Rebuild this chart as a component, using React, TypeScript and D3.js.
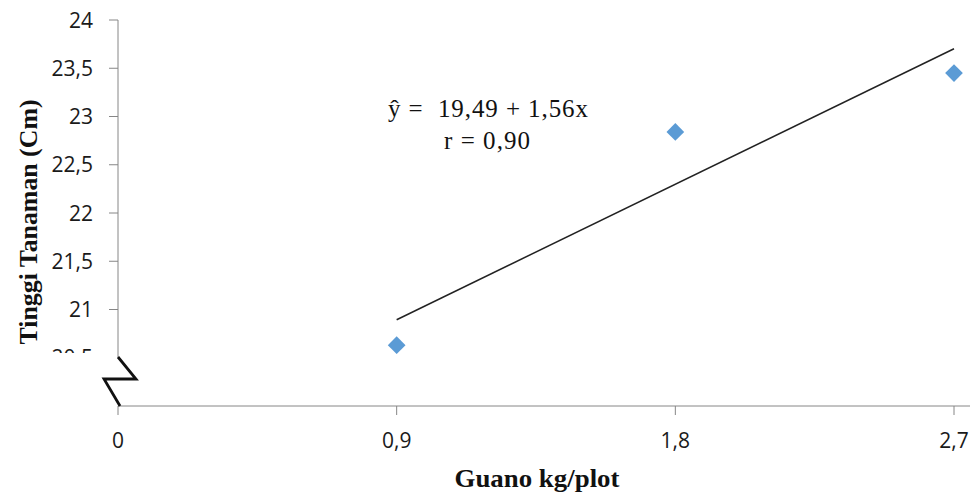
import React from "react";
import * as d3 from "d3";

const xDoses = [0.9, 1.8, 2.7];
const heights = [20.63, 22.84, 23.45];
const xTicks = [0, 0.9, 1.8, 2.7];
const xTickLabels = ["0", "0,9", "1,8", "2,7"];
const yTicks = [20, 20.5, 21, 21.5, 22, 22.5, 23, 23.5, 24];
const yTickLabels = ["20", "20,5", "21", "21,5", "22", "22,5", "23", "23,5", "24"];
const intercept = 19.49;
const slope = 1.56;
const equationLines = ["ŷ =  19,49 + 1,56x", "r = 0,90"];
const xTitle = "Guano kg/plot";
const yTitle = "Tinggi Tanaman (Cm)";

export default function App() {
  const W = 974, H = 495;
  const x = d3.scaleLinear().domain([0, 2.7]).range([118, 954]);
  const y = d3.scaleLinear().domain([20, 24]).range([406, 20]);
  const axisColor = "#868686";
  const sans = "'Open Sans', 'Noto Sans', sans-serif";
  const serif = "'Liberation Serif', 'Times New Roman', serif";
  const trend = d3.line<number>().x(d => x(d)).y(d => y(intercept + slope * d));
  const trendX = [xDoses[0], xDoses[xDoses.length - 1]];
  const diamond = d3.symbol().type(d3.symbolDiamond2).size(200)();
  return (
    <svg width={W} height={H} style={{ position: "absolute", left: 0, top: 0, background: "#fff" }}>
      {yTicks.map((t, i) => (
        <g key={"y" + i}>
          <line x1={109} x2={118} y1={y(t)} y2={y(t)} stroke={axisColor} strokeWidth={1} />
          <text x={93} y={y(t)} dy="0.36em" textAnchor="end" fontFamily={sans} fontSize={21} fill="#1a1a1a">
            {yTickLabels[i]}
          </text>
        </g>
      ))}
      <rect x={40} y={353} width={100} height={64} fill="#fff" />
      <rect x={84} y={350} width={8} height={6} fill="none" />
      <line x1={118} x2={118} y1={y(24)} y2={357} stroke={axisColor} strokeWidth={1} />
      <line x1={118} x2={970} y1={y(20)} y2={y(20)} stroke={axisColor} strokeWidth={1} />
      {xTicks.map((t, i) => (
        <g key={"x" + i}>
          <line x1={x(t)} x2={x(t)} y1={y(20)} y2={y(20) + 9} stroke={axisColor} strokeWidth={1} />
          <text x={x(t)} y={440} dy="0.36em" textAnchor="middle" fontFamily={sans} fontSize={21} fill="#1a1a1a">
            {xTickLabels[i]}
          </text>
        </g>
      ))}
      <path d="M118,357 L136,379 L104,379 L120,406" fill="none" stroke="#111" strokeWidth={2.8} strokeLinejoin="miter" />
      <path d={trend(trendX) || ""} fill="none" stroke="#222" strokeWidth={1.5} />
      {xDoses.map((d, i) => (
        <path key={"p" + i} d={diamond || ""} transform={`translate(${x(d)},${y(heights[i])})`} fill="#5B9BD5" />
      ))}
      <text x={388} y={117} fontFamily={serif} fontSize={25} fill="#111" textLength={200} lengthAdjust="spacing" style={{ whiteSpace: "pre" }}>
        {equationLines[0]}
      </text>
      <text x={444} y={149} fontFamily={serif} fontSize={25} fill="#111" textLength={86} lengthAdjust="spacing">
        {equationLines[1]}
      </text>
      <text x={537} y={487} textAnchor="middle" fontFamily={serif} fontWeight="bold" fontSize={25} fill="#111" textLength={165} lengthAdjust="spacingAndGlyphs">
        {xTitle}
      </text>
      <text transform={`translate(37,222) rotate(-90)`} textAnchor="middle" fontFamily={serif} fontWeight="bold" fontSize={25} fill="#111" textLength={245} lengthAdjust="spacingAndGlyphs">
        {yTitle}
      </text>
    </svg>
  );
}
